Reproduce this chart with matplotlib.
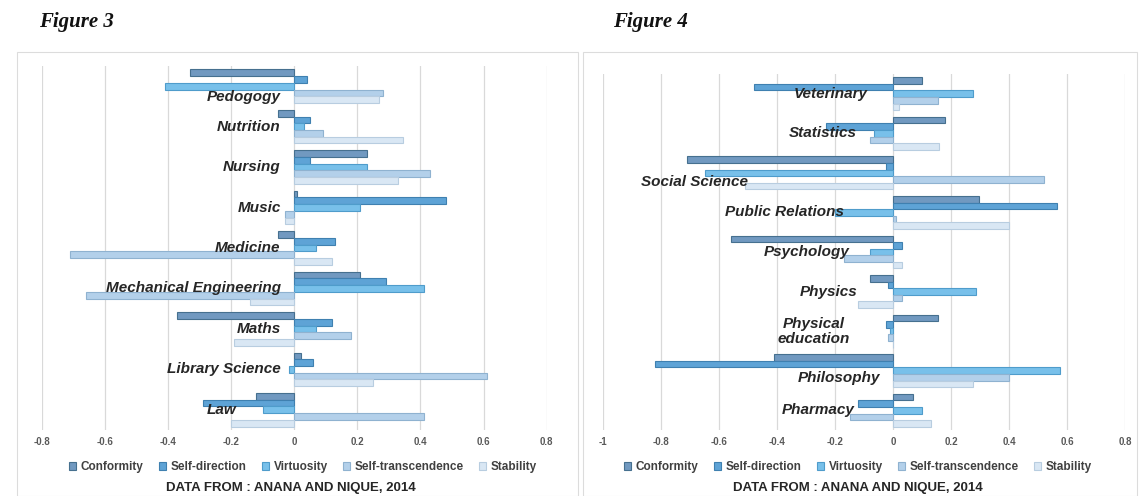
import numpy as np
import matplotlib
matplotlib.use('Agg')
import matplotlib.pyplot as plt
from matplotlib.patches import Rectangle

plt.rcParams['font.family'] = ['Liberation Sans', 'DejaVu Sans']

# ---- data ----
series = ['Conformity', 'Self-direction', 'Virtuosity', 'Self-transcendence', 'Stability']

fields3 = ['Pedogogy', 'Nutrition', 'Nursing', 'Music', 'Medicine',
           'Mechanical Engineering', 'Maths', 'Library Science', 'Law']
conformity3 = [-0.33, -0.05, 0.23, 0.01, -0.05, 0.21, -0.37, 0.02, -0.12]
selfdir3 = [0.04, 0.05, 0.05, 0.48, 0.13, 0.29, 0.12, 0.06, -0.29]
virtuosity3 = [-0.41, 0.03, 0.23, 0.21, 0.07, 0.41, 0.07, -0.015, -0.10]
selftrans3 = [0.28, 0.09, 0.43, -0.03, -0.71, -0.66, 0.18, 0.61, 0.41]
stability3 = [0.27, 0.345, 0.33, -0.03, 0.12, -0.14, -0.19, 0.25, -0.20]

fields4 = ['Veterinary', 'Statistics', 'Social Science', 'Public Relations',
           'Psychology', 'Physics', 'Physical\neducation', 'Philosophy', 'Pharmacy']
conformity4 = [0.10, 0.18, -0.71, 0.295, -0.56, -0.08, 0.155, -0.41, 0.07]
selfdir4 = [-0.48, -0.23, -0.025, 0.564, 0.03, -0.016, -0.025, -0.82, -0.12]
virtuosity4 = [0.275, -0.065, -0.65, -0.20, -0.08, 0.285, -0.01, 0.577, 0.10]
selftrans4 = [0.155, -0.08, 0.52, 0.01, -0.17, 0.03, -0.016, 0.40, -0.15]
stability4 = [0.02, 0.16, -0.51, 0.40, 0.03, -0.12, 0.0, 0.275, 0.13]

# ---- styling ----
fills = ['#7199c0', '#5ea3d6', '#78c0ea', '#b3d0ea', '#d9e7f4']
edges = ['#46708f', '#3f80b0', '#4f9ccb', '#8fb2d0', '#b8cde0']

# where the category labels sit (x in data units, y shift in bands)
lab_x3 = [-0.043, -0.043, -0.043, -0.043, -0.043, -0.043, -0.043, -0.043, -0.183]
lab_dy3 = [0.27, 0, 0, 0, 0, 0, 0, 0, 0]
lab_x4 = [-0.086, -0.124, -0.50, -0.17, -0.148, -0.124, -0.148, -0.045, -0.134]
lab_dy4 = [0, 0, 0.23, 0, 0, 0, 0, 0.18, 0]

W, H = 1140, 496
fig = plt.figure(figsize=(W / 100, H / 100), dpi=100)


def px_axes(x0, x1, y0, y1):
    return fig.add_axes([x0 / W, 1 - y1 / H, (x1 - x0) / W, (y1 - y0) / H])


def draw_panel(ax, fields, data, xlim, ticks, lab_x, lab_dy):
    n = len(fields)
    h = 0.166
    for j, vals in enumerate(data):
        y = np.arange(n)[::-1] + (2 - j) * h
        ax.barh(y, vals, height=h, color=fills[j], edgecolor=edges[j],
                linewidth=0.8, label=series[j], zorder=2)
    for i, name in enumerate(fields):
        ax.text(lab_x[i], n - 1 - i - lab_dy[i], name, ha='right', va='center',
                multialignment='center', fontsize=11, fontweight='bold',
                style='italic', color='#262626', zorder=5, linespacing=1.1)
    ax.set_xlim(*xlim)
    ax.set_ylim(-0.5, n - 0.5)
    ax.set_xticks(ticks)
    ax.set_xticklabels(['{:g}'.format(t) for t in ticks])
    ax.set_yticks([])
    ax.tick_params(axis='x', length=0, pad=5, labelsize=7, labelcolor='#595959')
    for lbl in ax.get_xticklabels():
        lbl.set_fontweight('bold')
    ax.grid(axis='x', color='#d9d9d9', linewidth=0.9, zorder=0)
    ax.set_axisbelow(True)
    for s in ax.spines.values():
        s.set_visible(False)


# chart-area frames
fig.patches.append(Rectangle((17 / W, 0), (578 - 17) / W, (H - 52) / H,
                             transform=fig.transFigure, fill=False,
                             edgecolor='#dcdcdc', linewidth=0.8))
fig.patches.append(Rectangle((583 / W, 0), (1137 - 583) / W, (H - 52) / H,
                             transform=fig.transFigure, fill=False,
                             edgecolor='#dcdcdc', linewidth=0.8))

ax3 = px_axes(41.7, 546.7, 66, 430)
draw_panel(ax3, fields3, [conformity3, selfdir3, virtuosity3, selftrans3, stability3],
           (-0.8, 0.8), [-0.8, -0.6, -0.4, -0.2, 0, 0.2, 0.4, 0.6, 0.8], lab_x3, lab_dy3)

ax4 = px_axes(603, 1125, 74, 430)
draw_panel(ax4, fields4, [conformity4, selfdir4, virtuosity4, selftrans4, stability4],
           (-1.0, 0.8), [-1, -0.8, -0.6, -0.4, -0.2, 0, 0.2, 0.4, 0.6, 0.8], lab_x4, lab_dy4)

for ax, cx in [(ax3, 303), (ax4, 858)]:
    handles, labels = ax.get_legend_handles_labels()
    fig.legend(handles, labels, loc='center', bbox_to_anchor=(cx / W, 1 - 467 / H),
               ncol=5, frameon=False, handlelength=0.6, handleheight=0.6,
               handletextpad=0.4, columnspacing=1.3,
               prop={'size': 8.5, 'weight': 'bold'}, labelcolor='#404040')
    fig.text(cx / W - 12 / W if ax is ax3 else cx / W, 1 - 488 / H,
             'DATA FROM : ANANA AND NIQUE, 2014', ha='center', va='center',
             fontsize=9.5, fontweight='bold', color='#262626')

fig.text(39 / W, 1 - 22 / H, 'Figure 3', ha='left', va='center', fontsize=15,
         family='Liberation Serif', fontweight='bold', style='italic', color='#111111')
fig.text(613 / W, 1 - 22 / H, 'Figure 4', ha='left', va='center', fontsize=15,
         family='Liberation Serif', fontweight='bold', style='italic', color='#111111')

fig.savefig('out.png', dpi=100, facecolor='white')
